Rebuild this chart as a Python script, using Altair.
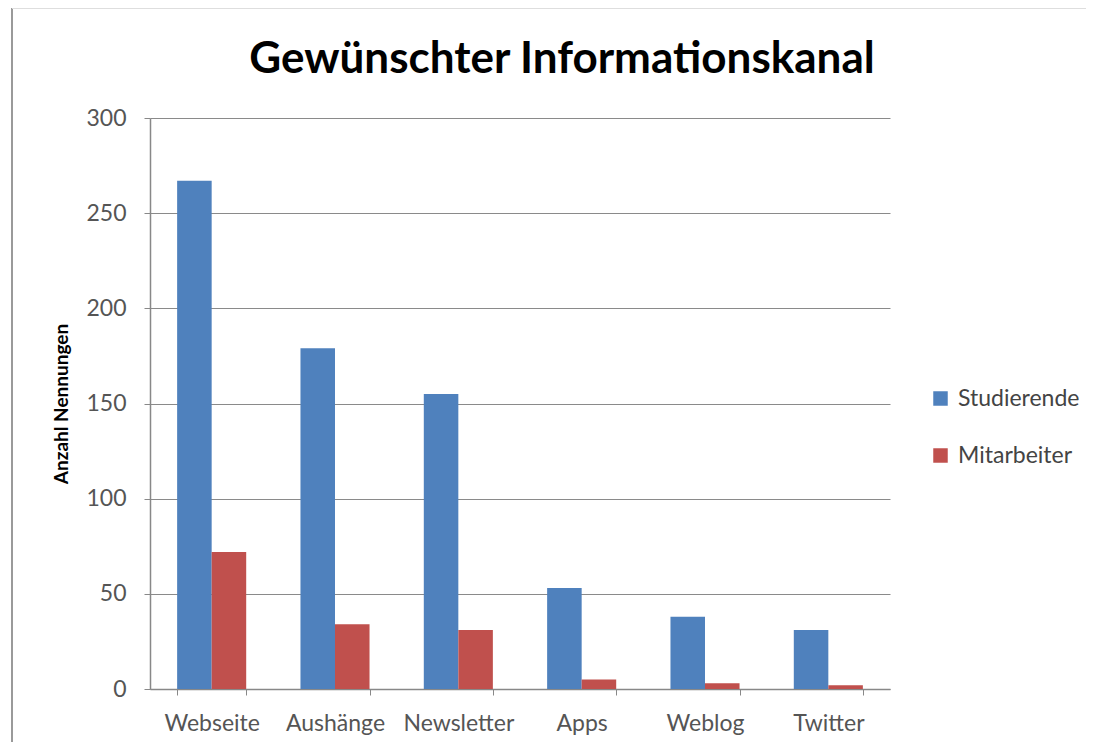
import altair as alt
import pandas as pd

categories = ["Webseite", "Aushänge", "Newsletter", "Apps", "Weblog", "Twitter"]
series = ["Studierende", "Mitarbeiter"]
studierende = [267, 179, 155, 53, 38, 31]
mitarbeiter = [72, 34, 31, 5, 3, 2]
colors = ["#4F81BD", "#C0504D"]

rows = []
for c, s, m in zip(categories, studierende, mitarbeiter):
    rows.append({"Kanal": c, "Gruppe": "Studierende", "Wert": s})
    rows.append({"Kanal": c, "Gruppe": "Mitarbeiter", "Wert": m})
df = pd.DataFrame(rows)

FONT = "Lato"
W, H = 740, 571

bars = alt.Chart(df).mark_bar().encode(
    x=alt.X("Kanal:N", sort=categories,
            scale=alt.Scale(paddingInner=0.44, paddingOuter=0.22),
            axis=alt.Axis(title=None, labelAngle=0, labelFontSize=23, labelFont=FONT,
                          labelColor="#555555", labelPadding=17, tickBand="extent",
                          tickSize=6, tickColor="#888888", domainColor="#888888",
                          grid=False)),
    xOffset=alt.XOffset("Gruppe:N", sort=series),
    y=alt.Y("Wert:Q", scale=alt.Scale(domain=[0, 300]),
            axis=alt.Axis(title="Anzahl Nennungen", values=[0, 50, 100, 150, 200, 250, 300],
                          titleFont=FONT, titleFontSize=19, titleFontWeight="bold",
                          titleColor="#000000", titlePadding=14,
                          labelFont=FONT, labelFontSize=23, labelColor="#555555",
                          labelPadding=18, tickSize=6, tickColor="#888888",
                          domainColor="#888888", gridColor="#8a8a8a")),
    color=alt.Color("Gruppe:N", sort=series,
                    scale=alt.Scale(domain=series, range=colors),
                    legend=alt.Legend(title=None, orient="none", legendX=779, legendY=269,
                                      symbolType="square", symbolSize=210,
                                      symbolStrokeWidth=0,
                                      labelFont=FONT, labelFontSize=23,
                                      labelColor="#444444", rowPadding=33,
                                      labelOffset=6)),
)

border_left = alt.Chart(df).mark_rule(color="#9a9a9a", strokeWidth=2).encode(
    x=alt.value(-138), y=alt.value(-110), y2=alt.value(H + 60)
)
border_top = alt.Chart(df).mark_rule(color="#dddddd", strokeWidth=1).encode(
    x=alt.value(-138), x2=alt.value(W + 210), y=alt.value(-110)
)

chart = alt.layer(bars, border_left, border_top).properties(
    width=W, height=H,
    title=alt.TitleParams("Gewünschter Informationskanal", font=FONT, fontSize=44,
                          fontWeight="bold", color="#000000", anchor="middle",
                          frame="group", baseline="alphabetic", offset=-110, dx=42),
    autosize=alt.AutoSizeParams(type="none"),
    padding={"left": 142, "top": 110, "right": 196, "bottom": 53},
).configure_view(stroke=None).configure_axis(domainWidth=1.5)

chart.save("out.html", embed_options={"renderer": "svg", "actions": False})
